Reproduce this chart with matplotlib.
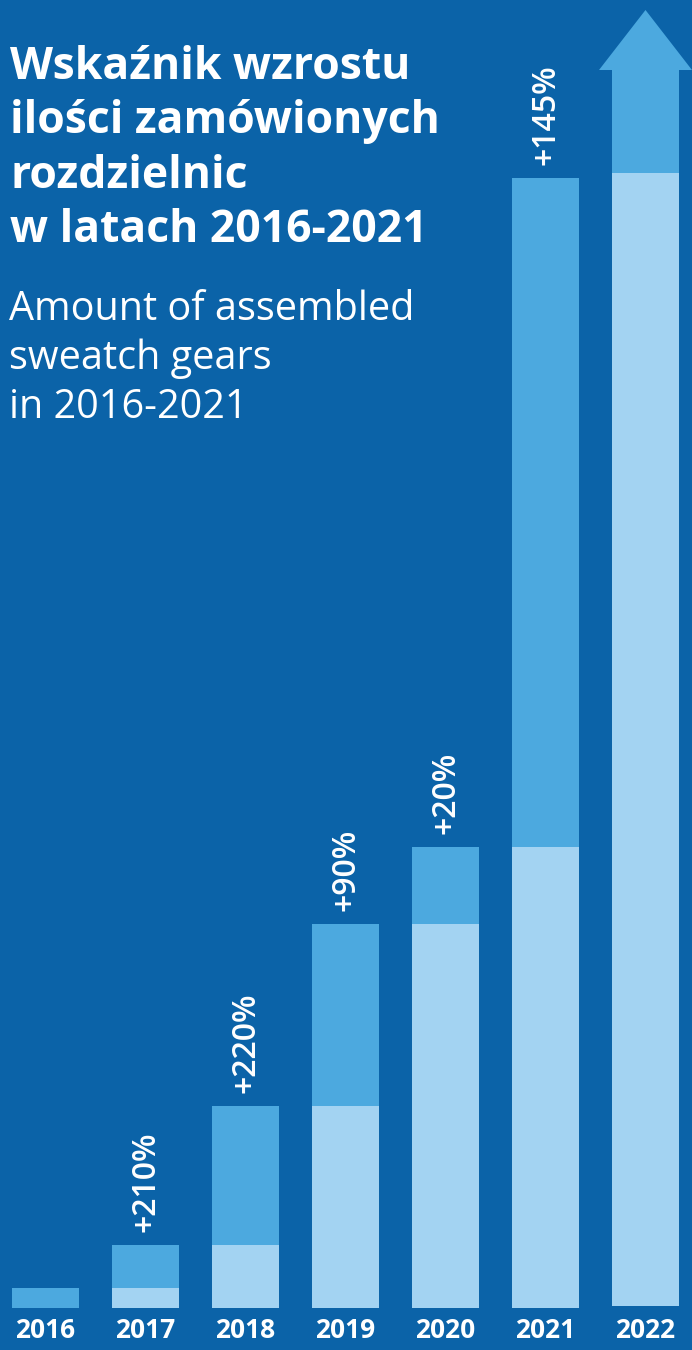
import matplotlib.pyplot as plt

# dane
years = ['2016', '2017', '2018', '2019', '2020', '2021', '2022']
values = [20, 63, 202, 384, 461, 1130]          # wysokosc slupka (odczyt z obrazu)
growth = ['', '+210%', '+220%', '+90%', '+20%', '+145%']

title_lines = ['Wskaźnik wzrostu', 'ilości zamówionych', 'rozdzielnic', 'w latach 2016-2021']
subtitle_lines = ['Amount of assembled', 'sweatch gears', 'in 2016-2021']

BG = '#0b63a8'
MID = '#4ca9df'
LIGHT = '#a3d3f2'
W, H = 692, 1350

fig = plt.figure(figsize=(W / 100, H / 100), dpi=100)
fig.patch.set_facecolor(BG)
ax = fig.add_axes([0, 0, 1, 1])
ax.set_facecolor(BG)
ax.set_xlim(-0.455, 6.465)
ax.set_ylim(-42, 1308)
ax.axis('off')

bw = 0.67
prev = 0
for i, v in enumerate(values):
    ax.bar(i, v - prev, bottom=prev, width=bw, color=MID, linewidth=0)
    if prev:
        ax.bar(i, prev, width=bw, color=LIGHT, linewidth=0)
    if growth[i]:
        ax.text(i, v + 13, growth[i], rotation=90, ha='center', va='bottom',
                color='white', fontsize=23, family='Open Sans', fontweight='semibold')
    prev = v

# 2022 - strzalka
ax.arrow(6, 2, 0, 1296, width=bw, head_width=0.93, head_length=60,
         length_includes_head=True, color=MID, linewidth=0)
ax.bar(6, values[-1] + 3, bottom=2, width=bw, color=LIGHT, linewidth=0)

for i, y in enumerate(years):
    ax.text(i, -22, y, ha='center', va='center', color='white',
            fontsize=19, family='Open Sans', fontweight='bold')

for k, line in enumerate(title_lines):
    fig.text(10 / W, 1 - (79 + 54.5 * k) / H, line, ha='left', va='baseline',
             color='white', fontsize=32, family='Open Sans', fontweight='bold')
for k, line in enumerate(subtitle_lines):
    fig.text(9 / W, 1 - (320 + 49 * k) / H, line, ha='left', va='baseline',
             color='white', fontsize=28.5, family='Open Sans', fontweight='normal')

plt.savefig('out.png', dpi=100, facecolor=BG)
